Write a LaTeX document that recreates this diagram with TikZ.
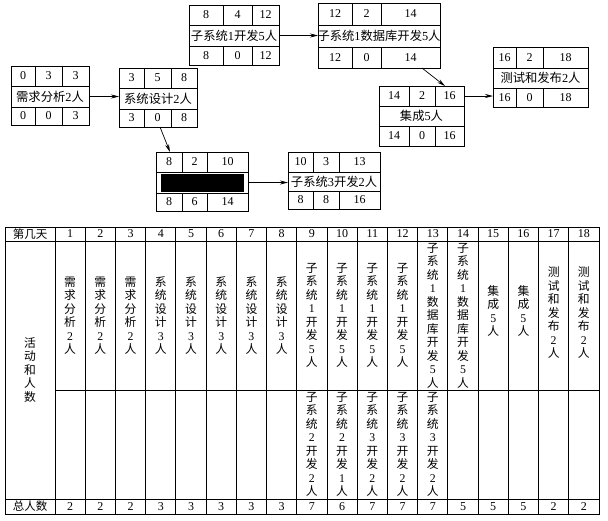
\documentclass[tikz,border=0pt]{standalone}
\usepackage{fontspec}
\setmainfont{Noto Sans CJK SC}
\newfontfamily\numf{Liberation Serif}
\usetikzlibrary{calc,arrows.meta}
\newcommand\nm[1]{{\numf #1}}
% #1 name, #2 x1, #3 y1, #4 x2, #5 y2, #6 col1, #7 col2, #8 row1, #9 row2
\newcommand\actbox[9]{%
  \node[frame, minimum width={(#4-#2)*1pt}, minimum height={(#5-#3)*1pt}] (#1) at ({(#2+#4)/2},{(#3+#5)/2}) {};
  \draw[gridline] (#2,#8) -- (#4,#8) (#2,#9) -- (#4,#9)
    (#6,#3) -- (#6,#8) (#7,#3) -- (#7,#8) (#6,#9) -- (#6,#5) (#7,#9) -- (#7,#5);
  \coordinate (#1-a1) at ({(#2+#6)/2},{(#3+#8)/2});
  \coordinate (#1-a2) at ({(#6+#7)/2},{(#3+#8)/2});
  \coordinate (#1-a3) at ({(#7+#4)/2},{(#3+#8)/2});
  \coordinate (#1-m)  at ({(#2+#4)/2},{(#8+#9)/2});
  \coordinate (#1-b1) at ({(#2+#6)/2},{(#9+#5)/2});
  \coordinate (#1-b2) at ({(#6+#7)/2},{(#9+#5)/2});
  \coordinate (#1-b3) at ({(#7+#4)/2},{(#9+#5)/2});
}
% #1 name, #2-#4 top, #5 middle, #6-#8 bottom
\newcommand\boxtext[8]{%
  \node[bnum] (#1-t1) at (#1-a1) {#2};
  \node[bnum] (#1-t2) at (#1-a2) {#3};
  \node[bnum] (#1-t3) at (#1-a3) {#4};
  \node[btext] (#1-tm) at (#1-m) {#5};
  \node[bnum] (#1-u1) at (#1-b1) {#6};
  \node[bnum] (#1-u2) at (#1-b2) {#7};
  \node[bnum] (#1-u3) at (#1-b3) {#8};
}
\begin{document}
\begin{tikzpicture}[x=1pt,y=-1pt,
  frame/.style={draw, line width=0.8pt, inner sep=0pt, outer sep=0pt},
  gridline/.style={line width=0.8pt},
  bnum/.style={font=\numf\fontsize{12}{12}\selectfont, inner sep=0pt},
  btext/.style={font=\fontsize{12.3}{13}\selectfont, inner sep=0pt},
  arr/.style={-{Stealth[length=8pt,width=4pt]}, line width=0.7pt},
  tline/.style={line width=0.8pt},
  tnum/.style={font=\numf\fontsize{12}{12}\selectfont, inner sep=0pt},
  ttext/.style={font=\fontsize{11.5}{12}\selectfont, inner sep=0pt},
  vtext/.style={font=\fontsize{11.8}{13.5}\selectfont, align=center, inner sep=0pt}]
\useasboundingbox (0,0) rectangle (608,520);
\fill[white] (0,0) rectangle (608,520);

% ---------- network ----------
\actbox{A}{11}{66}{89}{125}{35}{62}{86}{107}
\boxtext{A}{0}{3}{3}{需求分析\nm{2}人}{0}{0}{3}
\actbox{B}{119}{68}{197}{127}{144}{171}{88}{109}
\boxtext{B}{3}{5}{8}{系统设计\nm{2}人}{3}{0}{8}
\actbox{C}{189}{5}{279}{65}{223}{252}{25}{46}
\boxtext{C}{8}{4}{12}{子系统\nm{1}开发\nm{5}人}{8}{0}{12}
\actbox{D}{318}{3}{440}{68}{352}{381}{25}{47}
\boxtext{D}{12}{2}{14}{子系统\nm{1}数据库开发\nm{5}人}{12}{0}{14}
\actbox{E}{379}{86}{464}{146}{409}{435}{106}{126}
\boxtext{E}{14}{2}{16}{集成\nm{5}人}{14}{0}{16}
\actbox{F}{493}{47}{588}{107}{516}{543}{68}{88}
\boxtext{F}{16}{2}{18}{测试和发布\nm{2}人}{16}{0}{18}
\actbox{G}{156}{152}{248}{211}{182}{207}{172}{193}
\boxtext{G}{8}{2}{10}{}{8}{6}{14}
\node[fill=black, minimum width=83pt, minimum height=18pt, inner sep=0pt] (G-bar) at (G-m) {};
\actbox{H}{288}{152}{380}{209}{313}{339}{172}{191}
\boxtext{H}{10}{3}{13}{子系统\nm{3}开发\nm{2}人}{8}{8}{16}

\draw[arr] (A.east |- A-m) -- (B.west |- A-m);
\draw[arr] (C.east |- C-m) -- (D.west |- C-m);
\draw[arr] ($(D.south west)!0.852!(D.south east)$) -- ($(E.north west)!0.776!(E.north east)$);
\draw[arr] (E.east |- E-a3) -- (F.west |- E-a3);
\draw[arr] ($(B.south west)!0.526!(B.south east)$) -- ($(G.north west)!0.152!(G.north east)$);
\draw[arr] (G.east |- G-m) -- (H.west |- G-m);

% ---------- table ----------
\draw[tline] (5,227) rectangle (599,514);
\draw[tline] (5,241) -- (599,241);
\draw[tline] (5,499) -- (599,499);
\draw[tline] (55,390) -- (599,390);
\draw[tline] (55,227) -- (55,514);
\foreach \k in {1,...,17} \draw[tline] ({55+30.222*\k},227) -- ({55+30.222*\k},514);

\node[ttext] (hd) at (30,234) {第几天};
\node[ttext] (tot) at (30,506.5) {总人数};
\node[vtext] (act) at (30,370) {活\\动\\和\\人\\数};

\foreach \k in {1,...,18} \node[tnum] (h\k) at ({55+30.222*(\k-0.5)},234) {\k};
\foreach \k/\v in {1/2,2/2,3/2,4/3,5/3,6/3,7/3,8/3,9/7,10/6,11/7,12/7,13/7,14/5,15/5,16/5,17/2,18/2}
  \node[tnum] (s\k) at ({55+30.222*(\k-0.5)},506.5) {\v};

\foreach \k in {1,2,3}
  \node[vtext] (u\k) at ({55+30.222*(\k-0.5)},315.5) {需\\求\\分\\析\\\nm{2}\\人};
\foreach \k in {4,...,8}
  \node[vtext] (u\k) at ({55+30.222*(\k-0.5)},315.5) {系\\统\\设\\计\\\nm{3}\\人};
\foreach \k in {9,...,12}
  \node[vtext] (u\k) at ({55+30.222*(\k-0.5)},315.5) {子\\系\\统\\\nm{1}\\开\\发\\\nm{5}\\人};
\foreach \k in {13,14}
  \node[vtext] (u\k) at ({55+30.222*(\k-0.5)},315.5) {子\\系\\统\\\nm{1}\\数\\据\\库\\开\\发\\\nm{5}\\人};
\foreach \k in {15,16}
  \node[vtext] (u\k) at ({55+30.222*(\k-0.5)},311) {集\\成\\\nm{5}\\人};
\foreach \k in {17,18}
  \node[vtext] (u\k) at ({55+30.222*(\k-0.5)},313) {测\\试\\和\\发\\布\\\nm{2}\\人};

\node[vtext] (l9) at ({55+30.222*8.5},444.5) {子\\系\\统\\\nm{2}\\开\\发\\\nm{2}\\人};
\node[vtext] (l10) at ({55+30.222*9.5},444.5) {子\\系\\统\\\nm{2}\\开\\发\\\nm{1}\\人};
\foreach \k in {11,12,13}
  \node[vtext] (l\k) at ({55+30.222*(\k-0.5)},444.5) {子\\系\\统\\\nm{3}\\开\\发\\\nm{2}\\人};
\end{tikzpicture}
\end{document}
